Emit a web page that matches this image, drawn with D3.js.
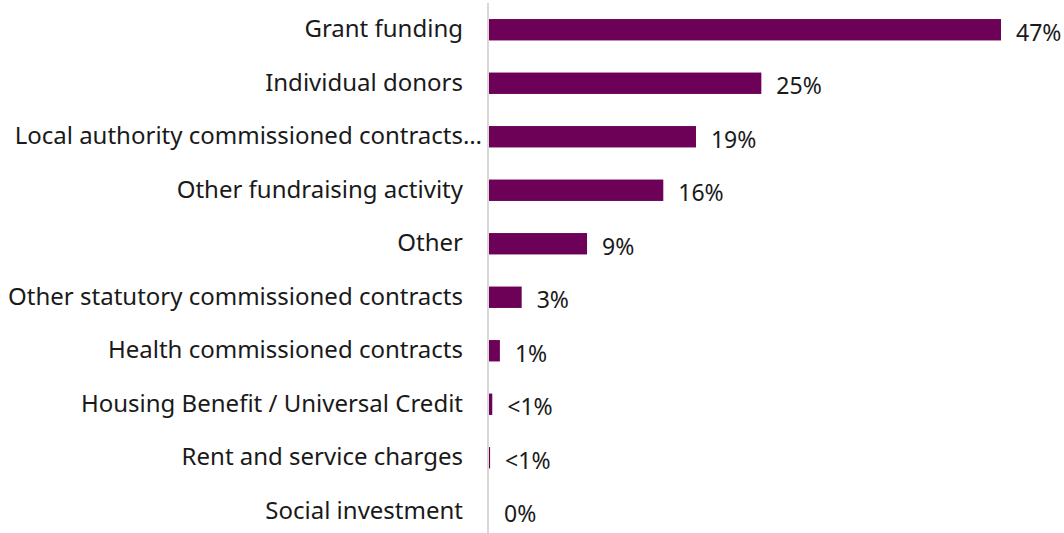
<!DOCTYPE html>
<html>
<head>
<meta charset="utf-8">
<script src="https://cdn.jsdelivr.net/npm/d3@7"></script>
<style>
  html, body { margin: 0; padding: 0; background: #fff; }
  svg { display: block; }
  text { font-family: "Noto Sans", "Open Sans", sans-serif; fill: #1a1a1a; }
</style>
</head>
<body>
<svg id="chart" width="1064" height="533"></svg>
<script>
// Income sources and share of total income
const categories = [
  "Grant funding",
  "Individual donors",
  "Local authority commissioned contracts…",
  "Other fundraising activity",
  "Other",
  "Other statutory commissioned contracts",
  "Health commissioned contracts",
  "Housing Benefit / Universal Credit",
  "Rent and service charges",
  "Social investment"
];
const values = [47, 25, 19, 16, 9, 3, 1, 0.3, 0.1, 0];
const valueLabels = ["47%", "25%", "19%", "16%", "9%", "3%", "1%", "<1%", "<1%", "0%"];

const svg = d3.select("#chart");
const axisX = 488;

const x = d3.scaleLinear().domain([0, 47]).range([axisX + 1, 1001]);
const y = d3.scaleBand().domain(categories).range([3, 538]).paddingInner(0.6).paddingOuter(0.3);

// bars
svg.append("g").selectAll("rect")
  .data(categories)
  .join("rect")
  .attr("x", x(0))
  .attr("y", d => y(d))
  .attr("width", (d, i) => x(values[i]) - x(0))
  .attr("height", y.bandwidth())
  .attr("fill", "#6d0057");

// vertical axis line
svg.append("line")
  .attr("x1", axisX).attr("x2", axisX)
  .attr("y1", 3).attr("y2", 533)
  .attr("stroke", "#d9d9d9").attr("stroke-width", 2);

// category labels
svg.append("g").selectAll("text")
  .data(categories)
  .join("text")
  .attr("x", d => d.endsWith("…") ? axisX - 6 : axisX - 25)
  .attr("y", d => y(d) + y.bandwidth() / 2 - 1)
  .attr("dy", "0.35em")
  .attr("text-anchor", "end")
  .attr("font-size", 24)
  .text(d => d);

// value labels
svg.append("g").selectAll("text")
  .data(categories)
  .join("text")
  .attr("x", (d, i) => x(values[i]) + 15)
  .attr("y", d => y(d) + y.bandwidth() / 2 + 3)
  .attr("dy", "0.35em")
  .attr("font-size", 23)
  .text((d, i) => valueLabels[i]);
</script>
</body>
</html>
